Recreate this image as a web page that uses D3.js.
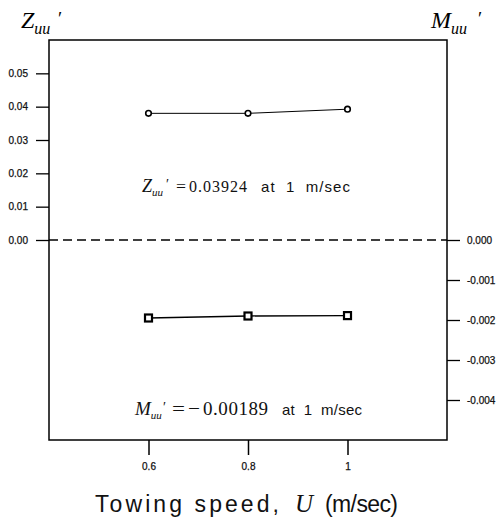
<!DOCTYPE html>
<html><head><meta charset="utf-8">
<script src="https://cdn.jsdelivr.net/npm/d3@7"></script>
<style>body{margin:0;background:#fff}svg{display:block}text{white-space:pre}</style>
</head><body><svg id="c" width="496" height="522"></svg>
<script>
const speeds = [0.6, 0.8, 1.0];
const zuu = [0.0380, 0.0380, 0.03924];
const muu = [-0.00195, -0.00190, -0.00189];
const xTicks = [0.6, 0.8, 1];
const xTickLabels = ["0.6", "0.8", "1"];
const leftTicks = [0, 0.01, 0.02, 0.03, 0.04, 0.05];
const leftTickLabels = ["0.00", "0.01", "0.02", "0.03", "0.04", "0.05"];
const rightTicks = [0, -0.001, -0.002, -0.003, -0.004];
const rightTickLabels = ["0.000", "-0.001", "-0.002", "-0.003", "-0.004"];

const svg = d3.select("#c");
const L = 49, R = 447, T = 40, B = 440;
const x = d3.scaleLinear().domain([0.4, 1.2]).range([L, R]);
const yL = d3.scaleLinear().domain([-0.06, 0.06]).range([B, T]);
const yR = d3.scaleLinear().domain([-0.005, 0.005]).range([B, T]);

const tickFont = "'Liberation Sans', Arial, sans-serif";
function styleAxis(g, w) {
  g.select(".domain").remove();
  g.selectAll("line").attr("stroke", "#000").attr("stroke-width", w);
  g.selectAll("text").attr("font-family", tickFont).attr("font-size", 10).attr("fill", "#111")
    .attr("stroke", "#111").attr("stroke-width", 0.25);
}

// left axis
const la = svg.append("g").attr("transform", `translate(${L},0)`)
  .call(d3.axisLeft(yL).tickValues(leftTicks).tickFormat((d,i)=>leftTickLabels[i]).tickSize(13).tickPadding(8));
styleAxis(la, 1.3);

// right axis
const ra = svg.append("g").attr("transform", `translate(${R},0)`)
  .call(d3.axisRight(yR).tickValues(rightTicks).tickFormat((d,i)=>rightTickLabels[i]).tickSize(13).tickPadding(7));
styleAxis(ra, 1.3);

// bottom axis
const ba = svg.append("g").attr("transform", `translate(0,${B})`)
  .call(d3.axisBottom(x).tickValues(xTicks).tickFormat((d,i)=>xTickLabels[i]).tickSize(15).tickPadding(8));
styleAxis(ba, 1.5);

// frame
svg.append("rect").attr("x", L).attr("y", T).attr("width", R-L).attr("height", B-T)
  .attr("fill", "none").attr("stroke", "#000").attr("stroke-width", 1.5);

// zero dashed line
svg.append("line").attr("x1", L).attr("x2", R).attr("y1", yL(0)).attr("y2", yL(0))
  .attr("stroke", "#000").attr("stroke-width", 1.3).attr("stroke-dasharray", "9,5");

// Z series
const zData = speeds.map((s,i)=>({x:s, y:zuu[i]}));
svg.append("path").datum(zData)
  .attr("d", d3.line().x(d=>x(d.x)).y(d=>yL(d.y)))
  .attr("fill", "none").attr("stroke", "#000").attr("stroke-width", 1);
svg.selectAll(".zc").data(zData).join("circle")
  .attr("cx", d=>x(d.x)).attr("cy", d=>yL(d.y)).attr("r", 2.8)
  .attr("fill", "#fff").attr("stroke", "#000").attr("stroke-width", 1.6);

// M series
const mData = speeds.map((s,i)=>({x:s, y:muu[i]}));
svg.append("path").datum(mData)
  .attr("d", d3.line().x(d=>x(d.x)).y(d=>yR(d.y)))
  .attr("fill", "none").attr("stroke", "#000").attr("stroke-width", 1.3);
svg.selectAll(".ms").data(mData).join("rect")
  .attr("x", d=>x(d.x)-3.5).attr("y", d=>yR(d.y)-3.5).attr("width", 7).attr("height", 7)
  .attr("fill", "#fff").attr("stroke", "#000").attr("stroke-width", 2.2);

const serif = "'Liberation Serif', 'Times New Roman', serif";
const sans = "'Liberation Sans', Arial, sans-serif";

// axis symbol labels
function symLabel(xp, yp, main, primeX) {
  const t = svg.append("text").attr("x", xp).attr("y", yp).attr("font-family", serif)
    .attr("font-style", "italic").attr("fill", "#000");
  t.append("tspan").attr("font-size", 24).text(main);
  t.append("tspan").attr("font-size", 16).attr("dy", 6).text("uu");
  svg.append("text").attr("x", primeX).attr("y", 25).attr("font-family", serif)
    .attr("font-size", 19).attr("fill", "#000").text("′");
}
symLabel(21, 28, "Z", 58);
symLabel(431, 28, "M", 478);

// annotations
function txt(xp, yp, s, fam, size, opts) {
  const t = svg.append("text").attr("x", xp).attr("y", yp).attr("fill", "#111")
    .attr("font-family", fam).attr("font-size", size).text(s);
  if (opts && opts.italic) t.attr("font-style", "italic");
  if (opts && opts.end) t.attr("textLength", opts.end - xp).attr("lengthAdjust", opts.adj || "spacing");
  return t;
}
function annot(xp, yp, main, mainSize, subSize, primeX, parts, atX, atEnd) {
  const t = svg.append("text").attr("x", xp).attr("y", yp).attr("fill", "#111");
  t.append("tspan").attr("font-family", serif).attr("font-style", "italic").attr("font-size", mainSize).text(main);
  t.append("tspan").attr("font-family", serif).attr("font-style", "italic").attr("font-size", subSize).attr("dy", 4).text("uu");
  txt(primeX, yp - 3, "′", serif, 14);
  parts.forEach(p => txt(p[0], yp, p[2], serif, p[3], {end: p[1], adj: p[4]}));
  txt(atX, yp, "at  1  m/sec", sans, 15, {end: atEnd});
}
annot(142, 192, "Z", 18, 11, 166, [[176, 186, "=", 16, "spacingAndGlyphs"], [189, 247, "0.03924", 16, "spacing"]], 261, 350);
annot(135, 415, "M", 19, 11, 163, [[172, 185, "=", 19, "spacingAndGlyphs"], [188, 200, "−", 19, "spacingAndGlyphs"], [203, 268, "0.00189", 19, "spacing"]], 282, 362);

// x title
function tt(xp, x2, s, fam, size, italic) {
  txt(xp, 512, s, fam, size, {italic: italic, end: x2});
}
tt(95, 279, "Towing speed,", sans, 23, false);
tt(295, 313, "U", serif, 25, true);
tt(325, 398, "(m/sec)", sans, 23, false);
</script></body></html>
